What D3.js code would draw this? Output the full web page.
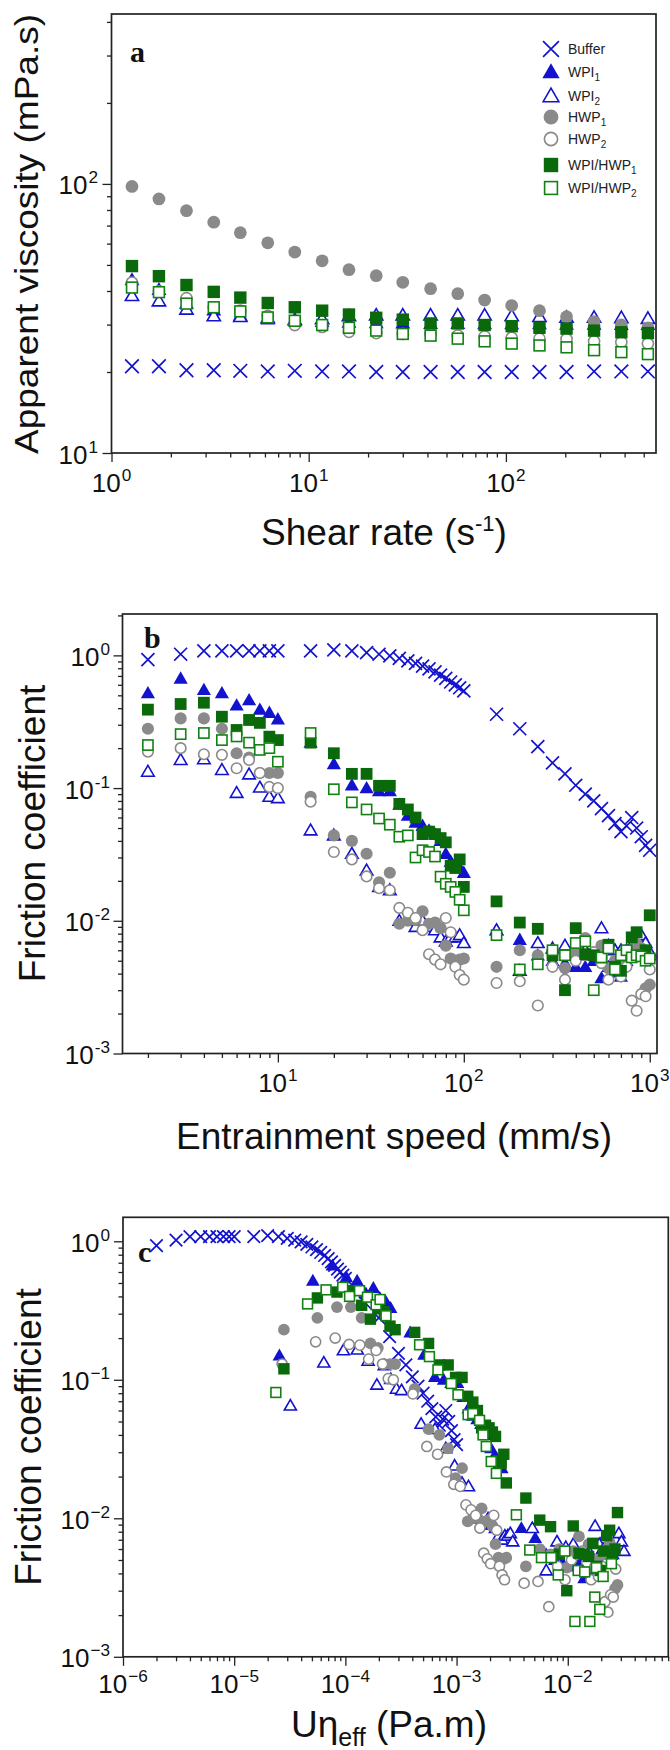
<!DOCTYPE html>
<html><head><meta charset="utf-8">
<script src="https://cdn.jsdelivr.net/npm/d3@7/dist/d3.min.js"></script>
<style>html,body{margin:0;padding:0;background:#fff;} svg{display:block;}</style>
</head><body>
<svg id="chart" width="670" height="1750"></svg>
<script>
// ---------------- DATA ----------------
// Panel a: apparent viscosity (mPa.s) vs shear rate (1/s)
const shearRate = [1.27,1.74,2.4,3.3,4.5,6.2,8.5,11.7,16,22,30,41.5,57,78,107,148,203,280,385,525];
const viscBuffer = [21,21,20.3,20.3,20.2,20.1,20.2,20.1,20.1,20,20,20,20,20,20,20,20,20.1,20.1,20.1];
const viscWPI1 = [44,40.5,36,34,32.5,31.5,31,30.8,30.6,30.5,30.4,30.3,30.3,30.2,30.2,30.2,30.1,30.1,30,30];
const viscWPI2 = [38.4,36.7,34.2,32.3,32.1,31.8,31.3,31.5,32.3,32.5,32.5,32.5,32.5,32.5,32.3,32.1,31.9,31.9,31.8,31.6];
const viscHWP1 = [97.9,87.9,79.5,72.1,65.9,60.4,55.8,51.8,48.0,45.6,43.1,40.8,39.1,37,35.3,33.8,32.1,30.8,29.9,29.2];
const viscHWP2 = [43,39.9,37.6,34.8,33.8,32.3,29.9,29.4,28.2,27.9,27.7,27.7,27.3,27.1,26.8,26.6,26.5,26,25.8,25.5];
const viscMix1 = [49.5,45.4,42.1,39.7,37.8,36.1,34.8,33.8,32.7,31.8,31.3,30.3,30.3,29.9,29.6,29.2,29,28.5,28.1,27.9];
const viscMix2 = [41.2,39.6,35.9,34.8,33.6,31.9,31,29.9,29.2,28.5,27.7,27.3,26.6,26,25.5,25.1,24.7,24.1,23.7,23.3];

// Panels b & c: friction coefficient vs entrainment speed (mm/s)
const speeds = [1,2,3,4,5,6,7,8,9,10,15,20,25,30,35,40,45,50,55,60,65,70,75,80,85,90,95,100,150,200,250,300,350,400,450,500,550,600,650,700,750,800,850,900,950,1000];
const fcBuffer = [null,0.93,1.02,1.08,1.08,1.08,1.08,1.08,1.08,1.08,1.08,1.1,1.08,1.05,1.02,0.99,0.95,0.91,0.87,0.83,0.79,0.75,0.71,0.67,0.63,0.6,0.57,0.54,0.36,0.28,0.205,0.155,0.128,0.105,0.09,0.08,0.07,0.062,0.054,0.047,0.052,0.06,0.05,0.043,0.037,0.034];
const fcWPI1 = [0.15,0.52,0.67,0.55,0.52,0.42,0.46,0.39,0.37,0.33,0.22,0.152,0.105,0.1,0.095,0.095,0.075,0.062,0.055,0.052,0.048,0.045,0.04,0.032,0.028,0.027,0.025,0.023,0.0085,0.0072,0.0055,0.005,0.0048,0.0045,0.0045,0.005,0.0037,0.0045,0.0041,0.0038,0.005,0.006,0.0075,0.0065,0.006,0.0055];
const fcWPI2 = [0.065,0.133,0.163,0.165,0.137,0.092,0.127,0.101,0.086,0.084,0.048,0.044,0.032,0.024,0.018,0.017,0.01,0.01,0.009,0.01,0.009,0.0085,0.0075,0.007,0.0075,0.0075,0.0078,0.0068,0.0085,0.0042,0.0068,0.0062,0.0065,0.0055,0.006,0.0055,0.0088,0.0065,0.006,0.006,0.006,0.0065,0.007,0.0078,0.0068,0.0058];
const fcHWP1 = [0.23,0.28,0.335,0.335,0.28,0.183,0.17,0.13,0.13,0.13,0.086,0.044,0.04,0.032,0.0195,0.023,0.0095,0.01,0.0101,0.0118,0.0095,0.0097,0.0088,0.0065,0.0052,0.005,0.0051,0.0052,0.0045,0.006,0.0055,0.006,0.0044,0.0058,0.0074,0.0055,0.0065,0.0044,0.005,0.0045,0.0055,0.006,0.0067,0.0062,0.0031,0.0033];
const fcHWP2 = [0.13,0.188,0.2,0.18,0.178,0.141,0.163,0.13,0.102,0.1,0.079,0.033,0.029,0.0216,0.0176,0.017,0.0125,0.0115,0.0105,0.0085,0.0056,0.0051,0.0047,0.0105,0.0082,0.0045,0.0039,0.0036,0.0034,0.0035,0.0023,0.0045,0.0036,0.005,0.0055,0.0058,0.0048,0.0036,0.0045,0.0038,0.0045,0.0025,0.0021,0.0028,0.0027,0.0043];
const fcMix1 = [0.12,0.39,0.43,0.44,0.345,0.274,0.326,0.31,0.244,0.23,0.22,0.183,0.128,0.128,0.104,0.104,0.076,0.069,0.06,0.045,0.047,0.045,0.042,0.039,0.026,0.025,0.029,0.018,0.014,0.0097,0.0087,0.0055,0.003,0.0088,0.0056,0.0055,0.0053,0.0066,0.0045,0.0042,0.0058,0.0075,0.0082,0.0055,0.006,0.011];
const fcMix2 = [null,0.211,0.255,0.26,0.23,0.245,0.22,0.194,0.2,0.158,0.26,0.098,0.078,0.069,0.059,0.053,0.043,0.044,0.03,0.034,0.033,0.0305,0.0215,0.019,0.018,0.0165,0.0144,0.012,0.0078,0.0043,0.0047,0.006,0.0055,0.0068,0.007,0.003,0.0053,0.0062,0.0043,0.0055,0.006,0.0053,0.0055,0.0054,0.005,0.0052];

// Effective viscosities (Pa.s) used for the U*eta_eff axis of panel c
const etaBuffer = 0.001, etaWPI1 = 0.0255, etaWPI2 = 0.032, etaHWP1 = 0.028, etaHWP2 = 0.027, etaMix1 = 0.028;
// Panel c, WPI/HWP2 series read directly (U*eta in Pa.m, friction coefficient)
const mix2C_ueta = [2.37e-5,4.57e-5,6.7e-5,9.46e-5,1.09e-4,1.34e-4,1.58e-4,1.89e-4,2.05e-4,2.32e-4,4.65e-4,5.7e-4,6.8e-4,8.97e-4,1.03e-3,1.27e-3,1.4e-3,1.61e-3,1.73e-3,1.85e-3,2.05e-3,2.28e-3,3.45e-3,4.55e-3,5.8e-3,7.1e-3,8.2e-3,9.4e-3,1.16e-2,1.24e-2,1.42e-2,1.58e-2,1.75e-2,1.81e-2,1.94e-2,2.08e-2,2.47e-2];
const mix2C_fc = [0.081,0.353,0.446,0.466,0.40,0.44,0.395,0.348,0.38,0.29,0.179,0.147,0.118,0.094,0.078,0.056,0.057,0.051,0.04,0.033,0.0257,0.0211,0.0106,0.0059,0.0052,0.0052,0.0039,0.0058,0.0018,0.0042,0.0041,0.0018,0.0027,0.0044,0.0022,0.0038,0.0047];

const seriesNames = ["Buffer","WPI|1","WPI|2","HWP|1","HWP|2","WPI/HWP|1","WPI/HWP|2"];
const markerTypes = ["x","triF","triO","cirF","cirO","sqF","sqO"];

// ---------------- DRAWING ----------------
const SANS = "'Liberation Sans', Arial, sans-serif";
const SERIF = "'Liberation Serif', 'Times New Roman', serif";
const BLUE = "#1212cf", GRAY = "#8a8a8a", GREEN = "#0a690a", GREEN_O = "#118211";
const svg = d3.select("#chart");
svg.append("rect").attr("width",670).attr("height",1750).attr("fill","#fff");

function drawMarker(g, type, cx, cy, s){
  const sw = 1.6;
  if (type === "x"){
    const h = s*1.1;
    g.append("path").attr("d",`M${cx-h},${cy-h}L${cx+h},${cy+h}M${cx-h},${cy+h}L${cx+h},${cy-h}`)
      .attr("stroke",BLUE).attr("stroke-width",1.7).attr("fill","none");
  } else if (type === "triF" || type === "triO"){
    const open = type === "triO";
    const w = s*1.2 - (open?sw/2:0), h = s*2.1 - (open?sw:0);
    g.append("path").attr("d",`M${cx},${cy-h*0.58}L${cx+w},${cy+h*0.42}L${cx-w},${cy+h*0.42}Z`)
      .attr("fill", open?"#fff":BLUE).attr("stroke", open?BLUE:"none").attr("stroke-width",sw).attr("stroke-linejoin","miter");
  } else if (type === "cirF" || type === "cirO"){
    const open = type === "cirO";
    g.append("circle").attr("cx",cx).attr("cy",cy).attr("r", s*1.03 - (open?sw/2:0))
      .attr("fill", open?"#fff":GRAY).attr("stroke", open?GRAY:"none").attr("stroke-width",sw);
  } else {
    const open = type === "sqO";
    const h = s - (open?sw/2:0);
    g.append("rect").attr("x",cx-h).attr("y",cy-h).attr("width",2*h).attr("height",2*h)
      .attr("fill", open?"#fff":GREEN).attr("stroke", open?GREEN_O:"none").attr("stroke-width",sw);
  }
}

function logMinor(d){
  const out = [];
  for (let k = Math.floor(Math.log10(d[0])); k <= Math.ceil(Math.log10(d[1])); k++)
    for (let m = 2; m <= 9; m++){ const v = m*Math.pow(10,k); if (v >= d[0]*0.999 && v <= d[1]*1.001) out.push(v); }
  return out;
}

function powText(g, x, y, v, anchor, size, minus){
  const e = Math.round(Math.log10(v));
  const t = g.append("text").attr("x",x).attr("y",y).attr("text-anchor",anchor)
    .attr("font-family",SANS).attr("font-size",size).attr("fill","#111");
  t.append("tspan").text("10");
  t.append("tspan").attr("dx",1).attr("dy",-size*0.42).attr("font-size",size*0.66).text(e<0 ? minus+Math.abs(e) : String(e));
}

function makePanel(p){
  const x = d3.scaleLog().domain(p.xd).range([p.l, p.r]);
  const y = d3.scaleLog().domain(p.yd).range([p.b, p.t]);
  const g = svg.append("g");
  const ax = (axis, vals, len, tr) => {
    const a = g.append("g").attr("transform",tr).call(axis.tickValues(vals).tickSize(len).tickFormat(""));
    a.select(".domain").remove();
    a.selectAll("line").attr("stroke","#222").attr("stroke-width",1.3);
  };
  ax(d3.axisBottom(x), logMinor(p.xd), 4.5, `translate(0,${p.b})`);
  ax(d3.axisBottom(x), p.xMajor, 9, `translate(0,${p.b})`);
  ax(d3.axisLeft(y), logMinor(p.yd), 4.5, `translate(${p.l},0)`);
  ax(d3.axisLeft(y), p.yMajor, 9, `translate(${p.l},0)`);
  g.append("rect").attr("x",p.l).attr("y",p.t).attr("width",p.r-p.l).attr("height",p.b-p.t)
    .attr("fill","none").attr("stroke","#222").attr("stroke-width",1.7);
  p.xMajor.forEach(v => powText(g, x(v), p.xLabY, v, "middle", 26, p.minus));
  p.yMajor.forEach(v => powText(g, p.yLabX, y(v)+10.5, v, "end", 26, p.minus));
  g.append("text").attr("x",p.letter[1]).attr("y",p.letter[2]).attr("font-family",SERIF)
    .attr("font-weight","bold").attr("font-size",30).attr("fill","#111").text(p.letter[0]);
  const mg = g.append("g");
  return {x, y, g, mg};
}

function yTitle(cx, cy, txt, size, len){
  const t = svg.append("text").attr("transform",`translate(${cx},${cy}) rotate(-90)`).attr("text-anchor","middle")
    .attr("font-family",SANS).attr("font-size",size).attr("fill","#111").text(txt);
  if (len) t.attr("textLength",len).attr("lengthAdjust","spacingAndGlyphs");
}

// ----- Panel a -----
const A = makePanel({l:111.5, r:656, t:14, b:453, xd:[1,577], yd:[10,428], xMajor:[1,10,100], yMajor:[10,100],
  xLabY:492, yLabX:98, minus:"-", letter:["a",130,62]});
const viscSeries = [viscBuffer, viscWPI1, viscWPI2, viscHWP1, viscHWP2, viscMix1, viscMix2];
viscSeries.forEach((arr, si) => arr.forEach((v, i) => drawMarker(A.mg, markerTypes[si], A.x(shearRate[i]), A.y(v), 6.2)));
yTitle(38, 234, "Apparent viscosity (mPa.s)", 33, 440);
{
  const t = svg.append("text").attr("x",384).attr("y",545).attr("text-anchor","middle")
    .attr("font-family",SANS).attr("font-size",37).attr("fill","#111");
  t.append("tspan").text("Shear rate (s");
  t.append("tspan").attr("dy",-14).attr("font-size",22).text("-1");
  t.append("tspan").attr("dy",14).text(")");
}
// legend
const legY = [49,72,96,117,139,165,188];
seriesNames.forEach((nm, i) => {
  drawMarker(svg, markerTypes[i], 551, legY[i], 7.2);
  const parts = nm.split("|");
  const t = svg.append("text").attr("x",568).attr("y",legY[i]+5).attr("font-family",SANS)
    .attr("font-size",14).attr("fill","#222");
  t.append("tspan").text(parts[0]);
  if (parts[1]) t.append("tspan").attr("dy",4).attr("font-size",10).text(parts[1]);
});

// ----- Panel b -----
const B = makePanel({l:122.5, r:657, t:614, b:1053.5, xd:[1.46,1094], yd:[0.001,2.05], xMajor:[10,100,1000],
  yMajor:[1,0.1,0.01,0.001], xLabY:1092, yLabX:110, minus:"-", letter:["b",144,648]});
const fcSeries = [fcBuffer, fcWPI1, fcWPI2, fcHWP1, fcHWP2, fcMix1, fcMix2];
fcSeries.forEach((arr, si) => arr.forEach((v, i) => {
  if (v == null || speeds[i] < 1.46) return;
  drawMarker(B.mg, markerTypes[si], B.x(speeds[i]), B.y(v), 5.9);
}));
yTitle(45, 833.5, "Friction coefficient", 37);
svg.append("text").attr("x",394).attr("y",1149).attr("text-anchor","middle").attr("font-family",SANS)
  .attr("font-size",37).attr("fill","#111").text("Entrainment speed (mm/s)");

// ----- Panel c -----
const C = makePanel({l:123, r:668.3, t:1217.3, b:1656.8, xd:[1e-6,0.0802], yd:[0.001,1.49],
  xMajor:[1e-6,1e-5,1e-4,1e-3,1e-2], yMajor:[1,0.1,0.01,0.001], xLabY:1693, yLabX:110, minus:"\u2212", letter:["c",138,1262]});
const etas = [etaBuffer, etaWPI1, etaWPI2, etaHWP1, etaHWP2, etaMix1];
etas.forEach((eta, si) => fcSeries[si].forEach((v, i) => {
  if (v == null) return;
  const ueta = (speeds[i]/1000) * eta;   // U (m/s) x eta_eff (Pa.s)
  drawMarker(C.mg, markerTypes[si], C.x(ueta), C.y(v), 5.7);
}));
mix2C_ueta.forEach((u, i) => drawMarker(C.mg, "sqO", C.x(u), C.y(mix2C_fc[i]), 5.7));
yTitle(41, 1437, "Friction coefficient", 37);
{
  const t = svg.append("text").attr("x",389).attr("y",1737).attr("text-anchor","middle")
    .attr("font-family",SANS).attr("font-size",37).attr("fill","#111");
  t.append("tspan").text("U\u03B7");
  t.append("tspan").attr("dy",9).attr("font-size",25).text("eff");
  t.append("tspan").attr("dy",-9).text(" (Pa.m)");
}
</script>
</body></html>
